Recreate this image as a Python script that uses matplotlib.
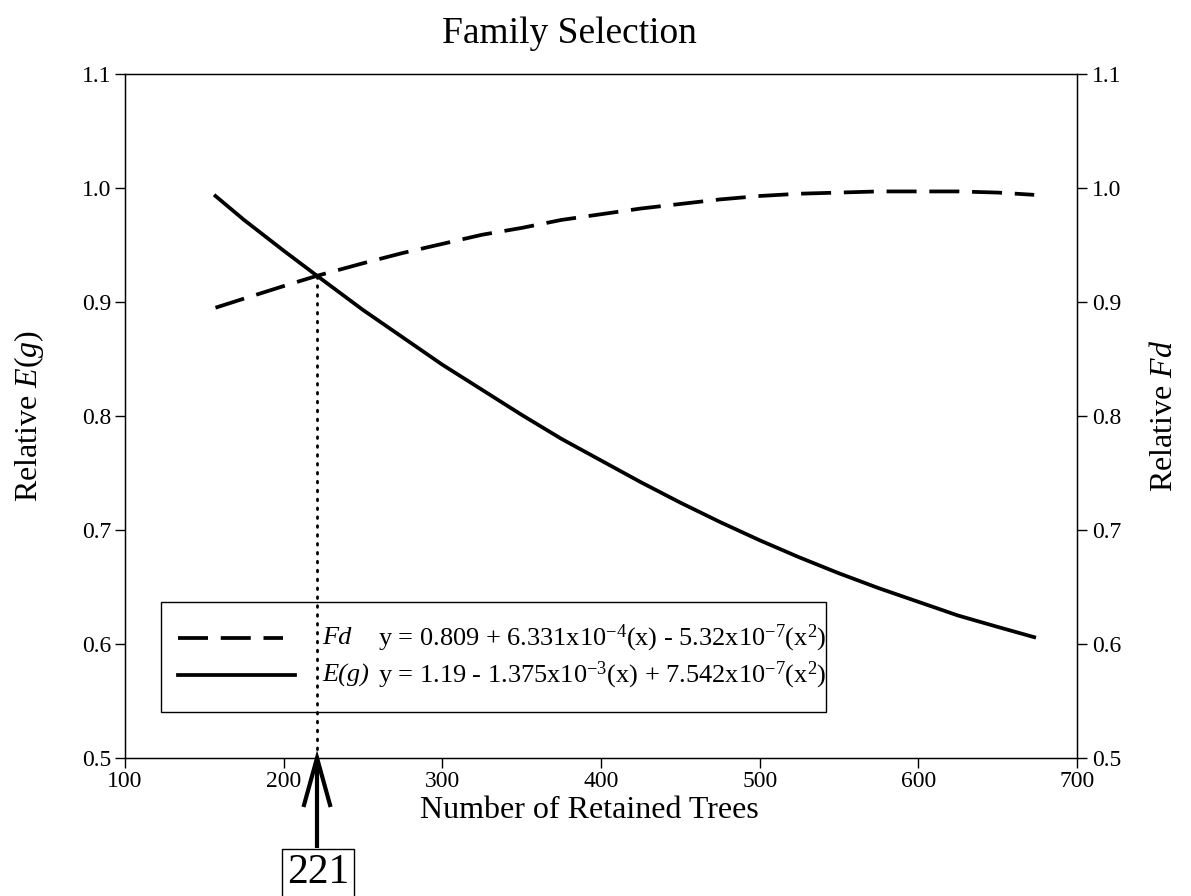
import matplotlib
matplotlib.use("Agg")
import matplotlib.pyplot as plt
from matplotlib.patches import Rectangle

plt.rcParams["font.family"] = ["Liberation Serif", "DejaVu Serif"]
plt.rcParams["mathtext.fontset"] = "custom"
plt.rcParams["mathtext.rm"] = "Liberation Serif"
plt.rcParams["mathtext.it"] = "Liberation Serif:italic"

# values
trees = [157, 175, 200, 221, 250, 275, 300, 325, 350, 375, 400, 425, 450,
         475, 500, 525, 550, 575, 600, 625, 650, 673]
fd = [0.895, 0.903, 0.914, 0.923, 0.934, 0.943, 0.951, 0.959, 0.965, 0.972,
      0.977, 0.982, 0.986, 0.990, 0.993, 0.995, 0.996, 0.997, 0.997, 0.997,
      0.996, 0.994]
eg = [0.993, 0.972, 0.945, 0.923, 0.893, 0.869, 0.845, 0.823, 0.801, 0.780,
      0.761, 0.742, 0.724, 0.707, 0.691, 0.676, 0.662, 0.649, 0.637, 0.625,
      0.615, 0.606]
cross_x = 221
cross_y = 0.923

x_ticks = [100, 200, 300, 400, 500, 600, 700]
y_ticks = [0.5, 0.6, 0.7, 0.8, 0.9, 1.0, 1.1]

fd_label = r"y = 0.809 + 6.331x10$^{-4}$(x) - 5.32x10$^{-7}$(x$^{2}$)"
eg_label = r"y = 1.19 - 1.375x10$^{-3}$(x) + 7.542x10$^{-7}$(x$^{2}$)"

fig = plt.figure(figsize=(11.91, 8.96), dpi=100)
ax = fig.add_axes([0.105, 0.154, 0.7993, 0.7634])

ax.plot(trees, fd, color="black", lw=2.7, dashes=(8, 3.4))
ax.plot(trees, eg, color="black", lw=2.7)
ax.plot([cross_x, cross_x], [0.5, cross_y], color="black", lw=2.0,
        dashes=(0.6, 2.6), dash_capstyle="round")

ax.set_xlim(100, 700)
ax.set_ylim(0.5, 1.1)
ax.set_xticks(x_ticks)
ax.set_yticks(y_ticks)
ax.set_xticklabels([str(t) for t in x_ticks])
ax.set_yticklabels(["%.1f" % t for t in y_ticks])
ax.tick_params(direction="out", length=7, width=1.0, labelsize=17, pad=3)
ax.tick_params(axis="x", pad=2)
for s in ax.spines.values():
    s.set_linewidth(1.0)

ax2 = ax.twinx()
ax2.set_ylim(0.5, 1.1)
ax2.set_yticks(y_ticks)
ax2.set_yticklabels(["%.1f" % t for t in y_ticks])
ax2.tick_params(direction="out", length=7, width=1.0, labelsize=17, pad=4)

ax.set_xlabel("Number of Retained Trees", fontsize=23)
ax.xaxis.set_label_coords(0.488, -0.056)
ax.set_ylabel(r"Relative $\it{E(g)}$", fontsize=23)
ax.yaxis.set_label_coords(-0.083, 0.5)
ax2.set_ylabel(r"Relative $\it{Fd}$", fontsize=23)
ax2.yaxis.set_label_coords(1.077, 0.5)
fig.text(0.478, 0.962, "Family Selection", fontsize=27, ha="center", va="center")

# legend box
ax.add_patch(Rectangle((122.7, 0.5404), 419.0, 0.0964, fill=False,
                       edgecolor="black", lw=1.0, zorder=5))
ax.plot([133.4, 199.6], [0.6053, 0.6053], color="black", lw=2.7, dashes=(8, 3.4))
ax.plot([133.4, 207.1], [0.5728, 0.5728], color="black", lw=2.7)
ax.text(224.2, 0.6053, "Fd", style="italic", fontsize=19, va="center")
ax.text(224.2, 0.5728, "E(g)", style="italic", fontsize=19, va="center")
ax.text(259.5, 0.6053, fd_label, fontsize=19, va="center")
ax.text(259.5, 0.5728, eg_label, fontsize=19, va="center")

# arrow pointing at the crossing
ax.plot([cross_x, cross_x], [0.5, 0.421], color="black", lw=3, clip_on=False,
        solid_capstyle="butt")
ax.plot([cross_x - 8.2, cross_x, cross_x + 8.2], [0.4588, 0.5, 0.4588],
        color="black", lw=3, clip_on=False, solid_joinstyle="miter")
fig.text(318 / 1191, 1 - 873 / 896, str(cross_x), fontsize=30, ha="center",
         va="center",
         bbox=dict(boxstyle="square,pad=0.12", fc="white", ec="black", lw=1.0))

fig.savefig("out.png", dpi=100)
